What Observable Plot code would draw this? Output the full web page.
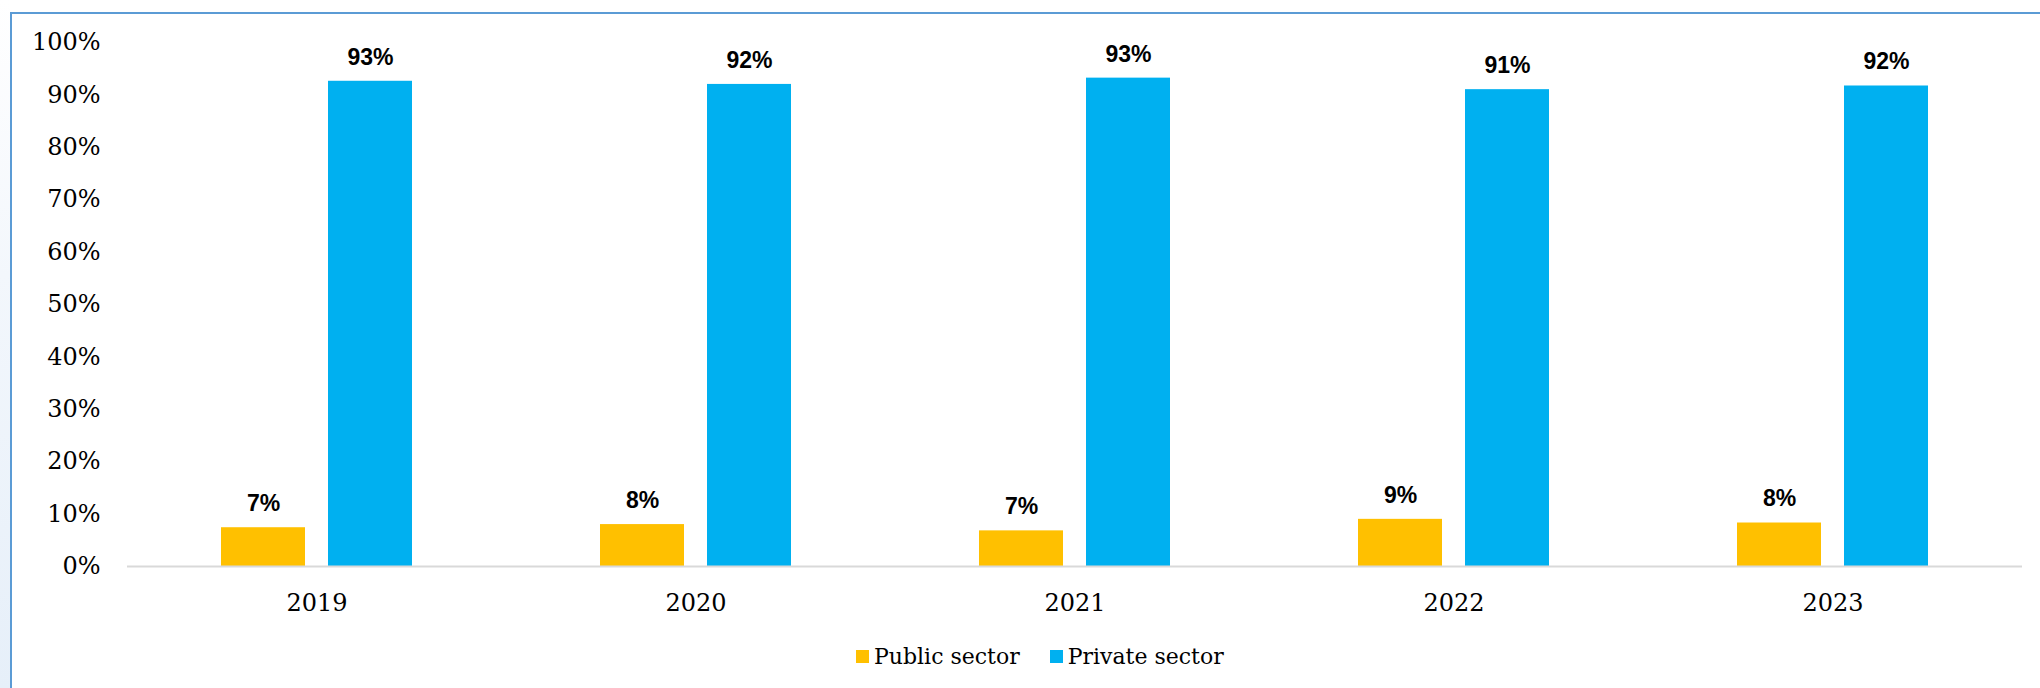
<!DOCTYPE html>
<html>
<head>
<meta charset="utf-8">
<script src="https://cdn.jsdelivr.net/npm/d3@7"></script>
<script src="https://cdn.jsdelivr.net/npm/@observablehq/plot@0.6"></script>
<style>
  html, body { margin: 0; padding: 0; background: #fff; width: 2040px; height: 688px; overflow: hidden; }
  #edge { position: absolute; left: 0; top: 0; width: 10px; height: 688px;
          background: linear-gradient(180deg, #ffffff 0%, #f3f7fc 40%, #e6eff9 100%); }
  #frame { position: absolute; left: 10px; top: 12px; width: 2040px; height: 700px;
           border-top: 2px solid #5b9bd5; border-left: 2px solid #5b9bd5; box-sizing: border-box; }
  #chart { position: absolute; left: 0; top: 0; }
  #legend { position: absolute; left: 856px; top: 644px; display: flex; align-items: center;
            font-family: "DejaVu Serif", serif; font-size: 22px; color: #000; white-space: nowrap; }
  #legend .item { display: flex; align-items: center; margin-right: 30px; }
  #legend .sw { width: 13px; height: 13px; margin-right: 5px; display: inline-block; }
</style>
</head>
<body>
<div id="edge"></div>
<div id="frame"></div>
<div id="chart"></div>
<div id="legend"></div>
<script>
const years = ["2019", "2020", "2021", "2022", "2023"];
const sectors = ["Public sector", "Private sector"];
const publicShare = [7.4, 8.0, 6.8, 9.0, 8.3];
const privateShare = [92.6, 92.0, 93.2, 91.0, 91.7];
const yTicks = [0, 10, 20, 30, 40, 50, 60, 70, 80, 90, 100];
const colors = ["#ffc000", "#00b0f0"];

const rows = [];
years.forEach((yr, i) => {
  rows.push({year: yr, sector: sectors[0], value: publicShare[i]});
  rows.push({year: yr, sector: sectors[1], value: privateShare[i]});
});

const chart = Plot.plot({
  width: 2040,
  height: 630,
  marginLeft: 126,
  marginRight: 17,
  marginTop: 42,
  marginBottom: 64,
  style: {background: "transparent", fontFamily: "DejaVu Serif, serif", fontSize: "24px", color: "#000"},
  facet: {data: rows, x: "year"},
  fx: {domain: years, padding: 0, label: null, tickSize: 0, tickPadding: 27},
  x: {domain: sectors, paddingInner: 0.213, paddingOuter: 0.863, axis: null},
  y: {domain: [0, 100], ticks: yTicks, tickFormat: d => d + "%", tickSize: 0, tickPadding: 27, label: null},
  color: {domain: sectors, range: colors},
  marks: [
    Plot.barY(rows, {x: "sector", y: "value", fill: "sector"}),
    Plot.ruleY([0], {stroke: "#d9d9d9", strokeWidth: 2}),
    Plot.text(rows, {
      x: "sector", y: "value", text: d => Math.round(d.value) + "%",
      dy: -24, lineAnchor: "middle", fontFamily: "Liberation Sans, Arial, sans-serif",
      fontWeight: "bold", fontSize: 23, fill: "#000"
    })
  ]
});
document.getElementById("chart").appendChild(chart);

const legend = document.getElementById("legend");
sectors.forEach((s, i) => {
  const item = document.createElement("div");
  item.className = "item";
  const sw = document.createElement("span");
  sw.className = "sw";
  sw.style.background = colors[i];
  const lab = document.createElement("span");
  lab.textContent = s;
  item.appendChild(sw);
  item.appendChild(lab);
  legend.appendChild(item);
});
</script>
</body>
</html>
